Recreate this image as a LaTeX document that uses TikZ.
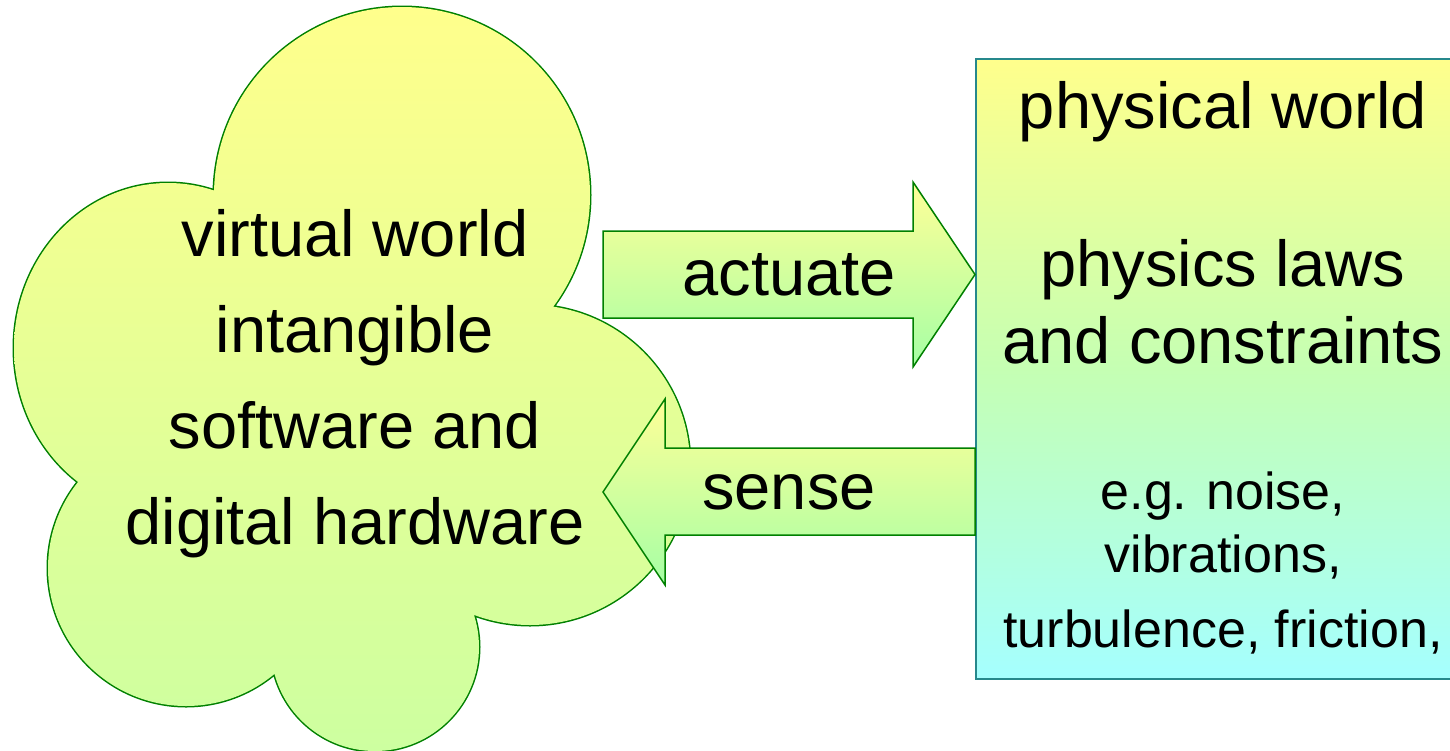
\documentclass[tikz,border=0pt]{standalone}
\usepackage{fontspec}
\setmainfont{Liberation Sans}
\usepackage{tikz}

\definecolor{cloudline}{RGB}{0,128,0}
\definecolor{boxline}{RGB}{38,136,140}
\definecolor{paleyellow}{RGB}{255,255,140}
\definecolor{palegreen}{RGB}{205,255,160}
\definecolor{arrowgreen}{RGB}{165,255,165}
\definecolor{palecyan}{RGB}{165,255,255}

% the lobes of the cloud, one circle each, plus one in the middle
\newcommand{\cloudlobes}{
  (402,195) circle[radius=188pt]
  (168,348) ellipse[x radius=154pt, y radius=165pt]
  (186,568) circle[radius=138pt]
  (375,647) circle[radius=104pt]
  (530,465) circle[radius=160pt]}

\tikzset{
  bigtxt/.style={anchor=base, inner sep=0pt, font=\fontsize{65}{78}\selectfont},
  smalltxt/.style={anchor=base, inner sep=0pt, font=\fontsize{52}{62}\selectfont},
  blockarrow/.style={draw=cloudline, line width=1.5pt, line join=miter,
    top color=paleyellow!90!white, bottom color=arrowgreen},
  worldbox/.style={draw=boxline, line width=1.5pt, shade,
    top color=paleyellow, bottom color=palecyan, middle color=palegreen!80!palecyan}
}

\begin{document}
\begin{tikzpicture}[x=1pt, y=-1pt]
   \useasboundingbox (0,0) rectangle (1450,750);

   % physical side
   \node[worldbox, anchor=north west, minimum width=495pt, minimum height=620pt] (physical) at (975,58) {};

   % cloud: thick line under, fill over it
   \draw[cloudline, line width=3pt] \cloudlobes;
   \shade[top color=paleyellow, bottom color=palegreen] \cloudlobes (360,430) circle[radius=150pt];

   % arrows
   \path[blockarrow] (603,231) -- (913,231) -- (913,182) -- (975,274.5)
      -- (913,367) -- (913,318) -- (603,318) -- cycle;
   \path[blockarrow] (975,448) -- (665,448) -- (665,399) -- (603,492)
      -- (665,585) -- (665,535) -- (975,535) -- cycle;

   \node[bigtxt] (actuate) at (789,295) {actuate};
   \node[bigtxt] (sense) at (789,509) {sense};

   % cloud text
   \node[bigtxt] (virtual) at (355,256) {virtual world};
   \node[bigtxt] (intangible) at (355,352) {intangible};
   \node[bigtxt] (software) at (355,448) {software and};
   \node[bigtxt] (hardware) at (355,544) {digital hardware};

   % box text
   \node[bigtxt] (title) at (1223,128) {physical world};
   \node[bigtxt] (laws) at (1223,286) {physics laws};
   \node[bigtxt] (constraints) at (1223,363) {and constraints};
   \node[smalltxt] (noise) at (1223,509) {e.g. noise,};
   \node[smalltxt] (vibrations) at (1223,572) {vibrations,};
   \node[smalltxt] (friction) at (1223,647) {turbulence, friction,};
\end{tikzpicture}
\end{document}
